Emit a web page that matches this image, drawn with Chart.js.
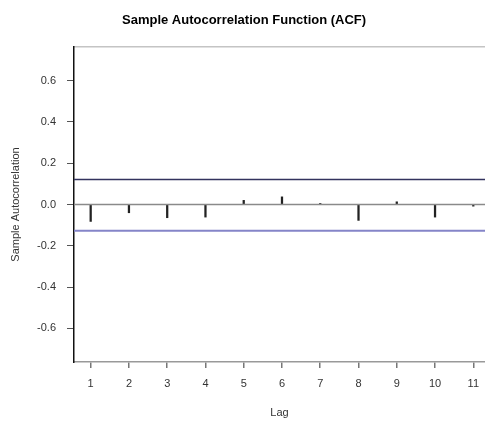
<!DOCTYPE html>
<html>
<head>
<meta charset="utf-8">
<script src="https://cdn.jsdelivr.net/npm/chart.js@4/dist/chart.umd.min.js"></script>
<style>
  body { margin: 0; background: #fff; }
  #wrap { width: 485px; height: 422px; position: relative; }
</style>
</head>
<body>
<div id="wrap"><canvas id="acfChart"></canvas></div>
<script>
// values
const lags = [1, 2, 3, 4, 5, 6, 7, 8, 9, 10, 11]
const acf = [-0.082, -0.040, -0.064, -0.061, 0.020, 0.037, 0.005, -0.077, 0.013, -0.061, -0.008]
const upperBound = [0.121, 0.121]
const lowerBound = [-0.127, -0.127]
const zeroLine = [0, 0]
const yTicks = [-0.6, -0.4, -0.2, 0.0, 0.2, 0.4, 0.6]
const xRange = [0.564, 11.306]
const yRange = [-0.763, 0.763]

const font = 'Liberation Sans, Arial, sans-serif'

const hline = (vals, color, width) => ({
    type: 'line',
    data: xRange.map((x, i) => ({ x, y: vals[i] })),
    borderColor: color,
    borderWidth: width,
    pointRadius: 0,
    fill: false,
    order: 0
})

// title drawn at the same spot as the reference (not centred on canvas)
const titlePlugin = {
    id: 'acfTitle',
    afterDraw(chart) {
        const ctx = chart.ctx
        ctx.save()
        ctx.font = 'bold 13px ' + font
        ctx.fillStyle = '#000'
        ctx.textAlign = 'left'
        ctx.textBaseline = 'alphabetic'
        ctx.fillText('Sample Autocorrelation Function (ACF)', 122, 24)
        ctx.restore()
    }
}

const noSidePad = s => { s.paddingLeft = 0; s.paddingRight = 0 }

new Chart(document.getElementById('acfChart'), {
    type: 'bar',
    data: {
        datasets: [
            {
                type: 'bar',
                data: lags.map((l, i) => ({ x: l, y: acf[i] })),
                backgroundColor: '#222',
                barThickness: 1.6,
                order: 1
            },
            hline(zeroLine, '#8a8a8a', 1.5),
            hline(upperBound, '#33335e', 1.3),
            hline(lowerBound, '#8585c8', 2)
        ]
    },
    options: {
        responsive: true,
        maintainAspectRatio: false,
        animation: false,
        layout: { autoPadding: false, padding: { top: 47, left: 0, right: 0, bottom: 0 } },
        plugins: { legend: { display: false }, tooltip: { enabled: false } },
        scales: {
            x: {
                type: 'linear',
                position: 'bottom',
                min: xRange[0],
                max: xRange[1],
                offset: false,
                afterBuildTicks: s => { s.ticks = lags.map(v => ({ value: v })) },
                afterFit: s => { s.height = 60; noSidePad(s) },
                grid: { display: true, offset: false, drawOnChartArea: false, drawTicks: true, tickLength: 6, color: '#777', lineWidth: 1.5 },
                border: { display: true, color: '#999', width: 1.5 },
                ticks: { color: '#333', font: { family: font, size: 11 }, padding: 9, maxRotation: 0, autoSkip: false },
                title: { display: true, text: 'Lag', color: '#333', font: { family: font, size: 11 }, padding: { top: 0, bottom: 2 } }
            },
            xTop: {
                type: 'linear',
                position: 'top',
                min: xRange[0],
                max: xRange[1],
                afterFit: s => { s.height = 0; noSidePad(s) },
                grid: { display: false },
                ticks: { display: false },
                border: { display: true, color: '#c4c4c4', width: 1.5 }
            },
            y: {
                type: 'linear',
                min: yRange[0],
                max: yRange[1],
                afterBuildTicks: s => { s.ticks = yTicks.map(v => ({ value: v })) },
                afterFit: s => { s.width = 74 },
                grid: { display: true, drawOnChartArea: false, drawTicks: true, tickLength: 7, color: '#555', lineWidth: 1 },
                border: { display: true, color: '#111', width: 1.5 },
                ticks: { color: '#333', font: { family: font, size: 11 }, padding: 11, callback: v => v.toFixed(1) },
                title: { display: true, text: 'Sample Autocorrelation', color: '#333', font: { family: font, size: 11 }, padding: { top: 9, bottom: 0 } }
            }
        }
    },
    plugins: [titlePlugin]
})
</script>
</body>
</html>
